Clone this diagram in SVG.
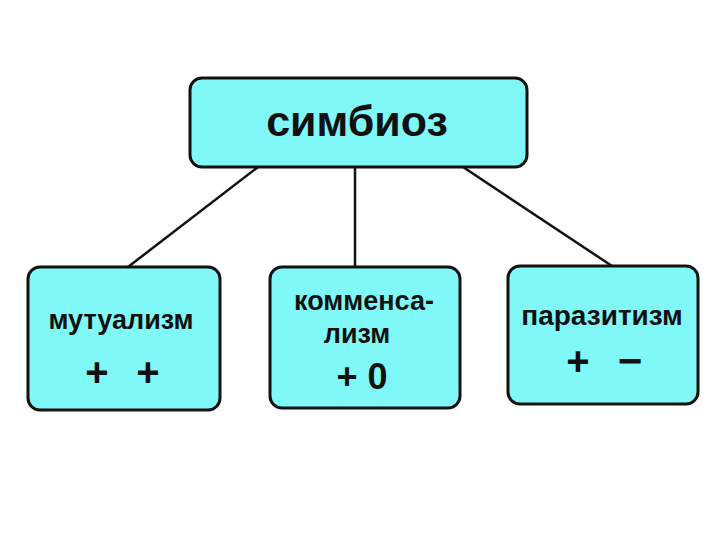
<svg xmlns="http://www.w3.org/2000/svg" width="720" height="540" viewBox="0 0 720 540">
<style>
.box{fill:#80F8F8;stroke:#111;stroke-width:3}
.t{font-family:"Liberation Sans",Arial,sans-serif;font-weight:bold;fill:#111;text-anchor:middle}
.c{stroke:#111;stroke-width:2.5;fill:none}
</style>
<rect width="720" height="540" fill="#fff"/>
<g id="connectors">
<line class="c" x1="258" y1="167" x2="128" y2="267"/>
<line class="c" x1="355" y1="167" x2="355" y2="267"/>
<line class="c" x1="463" y1="167" x2="612" y2="266"/>
</g>
<g id="symbiosis">
<rect class="box" x="190" y="78" width="337" height="89" rx="12"/>
<text class="t" x="357" y="136" font-size="43">симбиоз</text>
</g>
<g id="mutualism">
<rect class="box" x="28" y="267" width="192" height="143" rx="12"/>
<text class="t" x="121" y="329" font-size="27">мутуализм</text>
<text class="t" x="97" y="386" font-size="40">+</text>
<text class="t" x="148" y="386" font-size="40">+</text>
</g>
<g id="commensalism">
<rect class="box" x="270" y="267" width="190" height="141" rx="12"/>
<text class="t" x="364" y="310" font-size="27">комменса-</text>
<text class="t" x="357" y="343" font-size="27">лизм</text>
<text class="t" x="362" y="389" font-size="36">+ 0</text>
</g>
<g id="parasitism">
<rect class="box" x="508" y="266" width="190" height="138" rx="12"/>
<text class="t" x="602" y="325" font-size="28">паразитизм</text>
<text class="t" x="578" y="375" font-size="40">+</text>
<text class="t" x="630" y="375" font-size="42">−</text>
</g>
</svg>
